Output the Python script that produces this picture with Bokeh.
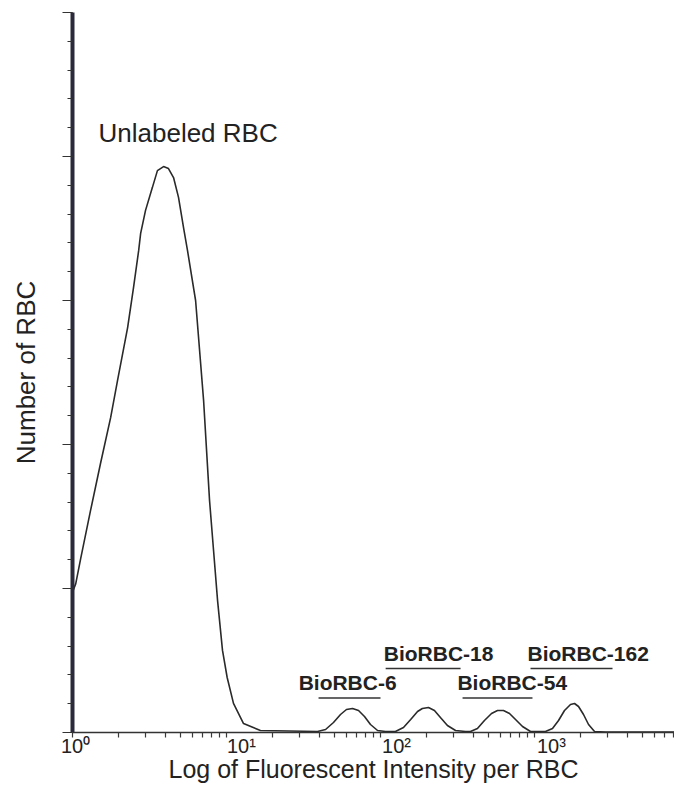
from bokeh.plotting import figure
from bokeh.models import Range1d, FixedTicker, SingleIntervalTicker, CustomJSTickFormatter
from bokeh.core.properties import value
from bokeh.embed import file_html
from bokeh.resources import INLINE

# ---- data ----
unlabeled_intensity = [1.01, 1.05, 1.13, 1.31, 1.52, 1.77, 1.96, 2.28, 2.49, 2.69, 2.77, 2.98, 3.30, 3.56,
                       3.90, 4.20, 4.53, 4.88, 5.26, 5.58, 6.30, 7.10, 7.76, 8.24, 8.75, 9.42, 10.1, 11.1,
                       12.9, 16.6]
unlabeled_count = [49.3, 51.7, 60.4, 77.1, 93.4, 109.4, 122.2, 140.6, 154.5, 167.4, 173.3, 181.3, 189.2, 195.1,
                   196.5, 195.8, 192.7, 185.8, 175.3, 167.4, 150.0, 115.3, 80.6, 63.2, 45.8, 28.5, 19.1, 10.1,
                   3.1, 0.7]
peak6_intensity = [39.0, 44.0, 49.5, 55.0, 60.1, 65.8, 72.0, 78.7, 86.1, 95.7, 107.7]
peak6_count = [0.35, 1.04, 3.47, 6.25, 7.99, 8.33, 7.64, 5.56, 2.78, 0.69, 0.35]
peak18_intensity = [125, 141, 157, 174, 187, 205, 224, 245, 272, 307, 356]
peak18_count = [0.35, 1.74, 4.51, 7.29, 8.33, 8.68, 7.64, 5.21, 2.43, 0.69, 0.35]
peak54_intensity = [384, 426, 473, 526, 575, 629, 688, 753, 836, 942, 1094]
peak54_count = [0.35, 1.39, 4.17, 6.60, 7.64, 7.64, 6.60, 4.51, 2.08, 0.35, 0.35]
peak162_intensity = [1178, 1309, 1432, 1566, 1713, 1819, 1931, 2081, 2243, 2453, 2891, 4877, 9141]
peak162_count = [0.35, 1.39, 4.17, 7.64, 9.72, 10.07, 9.03, 6.25, 2.78, 0.35, 0.17, 0.17, 0.17]

pop_labels = ["BioRBC-6", "BioRBC-18", "BioRBC-54", "BioRBC-162"]
pop_label_x = [29.4, 105, 316, 901]
pop_label_y = [17.4, 27.4, 17.4, 27.4]
bar_start = [39.6, 108, 341, 942]
bar_end = [100, 331, 970, 3210]
bar_y = [12.0, 22.2, 12.0, 22.2]

decades = [1, 10, 100, 1000]
tick_labels = ["10⁰", "10¹", "10²", "10³"]

X_MAX = 8110
Y_MAX = 250

# ---- figure ----
p = figure(width=674, height=785, x_axis_type="log",
           x_range=Range1d(1, X_MAX), y_range=Range1d(0, Y_MAX),
           output_backend="svg", toolbar_location=None,
           min_border_left=72, min_border_right=0, min_border_top=12, min_border_bottom=53)
p.outline_line_color = None
p.xgrid.visible = False
p.ygrid.visible = False
p.background_fill_color = "white"
p.border_fill_color = "white"

xs = unlabeled_intensity + peak6_intensity + peak18_intensity + peak54_intensity + peak162_intensity
ys = unlabeled_count + peak6_count + peak18_count + peak54_count + peak162_count
p.line(xs, ys, line_color="#2a2a2a", line_width=1.6)

# population markers
p.segment(x0=bar_start, y0=bar_y, x1=bar_end, y1=bar_y, line_color="#333333", line_width=1.6)
p.text(x=pop_label_x, y=pop_label_y, text=pop_labels, text_font=value("Liberation Sans"),
       text_font_style="bold", text_font_size="21px", text_color="#222222",
       text_baseline="alphabetic", text_align="left")
p.text(x=[1.475], y=[208.0], text=["Unlabeled RBC"], text_font=value("Liberation Sans"),
       text_font_size="26px", text_color="#222222", text_baseline="alphabetic", text_align="left")

# x axis: decade + minor tick marks drawn as minor ticks; labels sit just right of each decade
label_shift = [0.02, 0.097, 0.104, 0.11]
label_pos = [d * 10 ** s for d, s in zip(decades, label_shift)]
marks = [k * 10 ** n for n in range(0, 4) for k in range(1, 10) if k * 10 ** n < X_MAX]
p.xaxis.ticker = FixedTicker(ticks=label_pos, minor_ticks=marks)
p.xaxis.formatter = CustomJSTickFormatter(args=dict(labels=tick_labels),
                                          code="return labels[Math.floor(Math.log10(tick) + 1e-9)];")
p.xaxis.major_tick_line_color = None
p.xaxis.major_tick_out = 0
p.xaxis.major_tick_in = 0
p.xaxis.minor_tick_out = 5
p.xaxis.minor_tick_in = 0
p.xaxis.minor_tick_line_color = "#3a3a3a"
p.xaxis.minor_tick_line_width = 1.2
p.xaxis.axis_line_color = "#333333"
p.xaxis.axis_line_width = 1.5
p.xaxis.major_label_standoff = -3
p.xaxis.major_label_text_font = "Liberation Sans"
p.xaxis.major_label_text_font_size = "20px"
p.xaxis.major_label_text_color = "#222222"
p.xaxis.axis_label = "Log of Fluorescent Intensity per RBC"
p.xaxis.axis_label_standoff = -5
p.xaxis.axis_label_text_font = "Liberation Sans"
p.xaxis.axis_label_text_font_size = "25px"
p.xaxis.axis_label_text_font_style = "normal"
p.xaxis.axis_label_text_color = "#222222"

# y axis
p.yaxis.ticker = SingleIntervalTicker(interval=50, num_minor_ticks=5)
p.yaxis.major_label_text_font_size = "2px"
p.yaxis.major_label_text_color = None
p.yaxis.major_label_standoff = 0
p.yaxis.axis_line_color = "#2a2a3c"
p.yaxis.axis_line_width = 4
p.yaxis.major_tick_line_color = "#333333"
p.yaxis.minor_tick_line_color = "#333333"
p.yaxis.major_tick_out = 10
p.yaxis.major_tick_in = 0
p.yaxis.minor_tick_out = 5
p.yaxis.minor_tick_in = 0
p.yaxis.axis_label = "Number of RBC"
p.yaxis.axis_label_standoff = 22
p.yaxis.axis_label_text_font = "Liberation Sans"
p.yaxis.axis_label_text_font_size = "26px"
p.yaxis.axis_label_text_font_style = "normal"
p.yaxis.axis_label_text_color = "#222222"

open("out.html", "w").write(file_html(p, INLINE))
